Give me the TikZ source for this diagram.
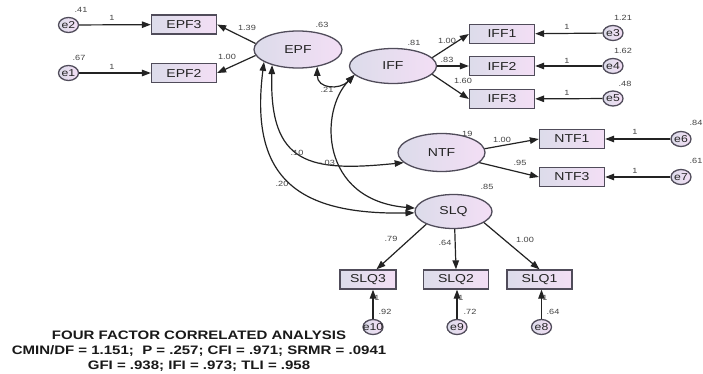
\documentclass[tikz,border=0pt]{standalone}
\usepackage{fontspec}
\setmainfont[FakeStretch=1.22]{Liberation Sans}
\usetikzlibrary{arrows.meta,shapes.geometric}
\definecolor{lc}{RGB}{35,35,35}
\definecolor{bd}{RGB}{80,76,90}
\definecolor{fl}{RGB}{220,220,234}
\definecolor{fr}{RGB}{243,222,245}
\begin{document}
\begin{tikzpicture}[x=1pt,y=-1pt,
 obs/.style={draw=bd, line width=1.3pt, left color=fl, right color=fr, minimum width=65pt, minimum height=19pt, inner sep=0pt, font=\fontsize{11.5}{12}\selectfont, text=lc},
 lat/.style={ellipse, draw=bd, line width=1.3pt, left color=fl, right color=fr, inner sep=0pt, font=\fontsize{11.5}{12}\selectfont, text=lc},
 err/.style={ellipse, draw=bd, line width=1.3pt, left color=fl, right color=fr, minimum width=20pt, minimum height=15pt, inner sep=0pt, font=\fontsize{10}{10}\selectfont, text=lc},
 lbl/.style={font=\fontsize{7.5}{8}\selectfont, text=lc!85, inner sep=0pt},
 con/.style={draw=lc, line width=1.2pt, -{Triangle[length=9pt,width=6.5pt]}},
 cov/.style={draw=lc, line width=1.2pt, {Triangle[length=9pt,width=6.5pt]}-{Triangle[length=9pt,width=6.5pt]}},
]
\useasboundingbox[fill=white] (0,0) rectangle (703,374);

% error terms
\node[err] (e2) at (68.5,25) {\makebox[0pt]{e2}};
\node[err] (e1) at (68.5,73) {\makebox[0pt]{e1}};
\node[err] (e3) at (613,33) {\makebox[0pt]{e3}};
\node[err] (e4) at (613,66) {\makebox[0pt]{e4}};
\node[err] (e5) at (613,98.5) {\makebox[0pt]{e5}};
\node[err] (e6) at (681,139) {\makebox[0pt]{e6}};
\node[err] (e7) at (681,177) {\makebox[0pt]{e7}};
\node[err] (e10) at (373,327) {\makebox[0pt]{e10}};
\node[err] (e9) at (457,327) {\makebox[0pt]{e9}};
\node[err] (e8) at (541.5,327) {\makebox[0pt]{e8}};

% observed
\node[obs] (EPF3) at (184,24.5) {EPF3};
\node[obs] (EPF2) at (184,73) {EPF2};
\node[obs] (IFF1) at (502,34) {IFF1};
\node[obs] (IFF2) at (502,66) {IFF2};
\node[obs] (IFF3) at (502,99) {IFF3};
\node[obs] (NTF1) at (572,139) {NTF1};
\node[obs] (NTF3) at (572,177) {NTF3};
\node[obs, minimum width=56pt] (SLQ3) at (368,279.5) {SLQ3};
\node[obs] (SLQ2) at (456,279.5) {SLQ2};
\node[obs] (SLQ1) at (539.5,279.5) {SLQ1};

% latent
\node[lat, minimum width=88pt, minimum height=37pt] (EPF) at (298,49.5) {EPF};
\node[lat, minimum width=87pt, minimum height=35pt] (IFF) at (393,66) {IFF};
\node[lat, minimum width=87pt, minimum height=38pt] (NTF) at (441.5,152.5) {NTF};
\node[lat, minimum width=77pt, minimum height=34pt] (SLQ) at (453.5,211.5) {SLQ};

% paths
\draw[con] (e2) -- (EPF3);
\draw[con] (e1) -- (EPF2);
\draw[con] (EPF.172) -- (EPF3.east);
\draw[con] (EPF.188) -- (EPF2.east);
\draw[con] (IFF.12) -- (IFF1.west);
\draw[con] (IFF.east) -- (IFF2.west);
\draw[con] (IFF.-12) -- (IFF3.west);
\draw[con] (e3) -- (IFF1);
\draw[con] (e4) -- (IFF2);
\draw[con] (e5) -- (IFF3);
\draw[con] (NTF.5) -- (NTF1.west);
\draw[con] (NTF.-15) -- (NTF3.west);
\draw[con] (e6) -- (NTF1);
\draw[con] (e7) -- (NTF3);
\draw[con] (SLQ.-155) -- (SLQ3.50);
\draw[con] (SLQ.-86) -- (SLQ2.north);
\draw[con] (SLQ.-20) -- (SLQ1.north);
\draw[con] (e10.north) -- (e10.north |- SLQ3.south);
\draw[con] (e9.north) -- (e9.north |- SLQ2.south);
\draw[con] (e8.north) -- (e8.north |- SLQ1.south);

% covariances
\draw[cov] (EPF.-42) .. controls +(0,22) and +(-15,15.5) .. (IFF.-167);
\draw[cov] (EPF.-149) .. controls +(-3,100) and +(-94,9.5) .. (NTF.-165);
\draw[cov] (EPF.-160) .. controls +(-15,118) and +(-115,2) .. (SLQ.-178);
\draw[cov] (IFF.-167) .. controls +(-35,35.5) and +(-96,-8) .. (SLQ.175);

% labels
\node[lbl] at (81,10) {.41};
\node[lbl] at (112,18) {1};
\node[lbl] at (79,58) {.67};
\node[lbl] at (112,67) {1};
\node[lbl] at (247,28) {1.39};
\node[lbl] at (227,57) {1.00};
\node[lbl] at (322,25) {.63};
\node[lbl] at (414,43) {.81};
\node[lbl] at (447,41) {1.00};
\node[lbl] at (447,60) {.83};
\node[lbl] at (463,81) {1.60};
\node[lbl] at (623,18) {1.21};
\node[lbl] at (623,51) {1.62};
\node[lbl] at (625,84) {.48};
\node[lbl] at (567,27) {1};
\node[lbl] at (567,61) {1};
\node[lbl] at (567,93) {1};
\node[lbl] at (327,90) {.21};
\node[lbl] at (297,153) {.10};
\node[lbl] at (327,163) {-.03};
\node[lbl] at (282,184) {.20};
\node[lbl] at (466,134) {.19};
\node[lbl] at (502,140) {1.00};
\node[lbl] at (520,163) {.95};
\node[lbl] at (696,123) {.84};
\node[lbl] at (696,161) {.61};
\node[lbl] at (635,132) {1};
\node[lbl] at (635,171) {1};
\node[lbl] at (487,187) {.85};
\node[lbl] at (391,239) {.79};
\node[lbl] at (445,243) {.64};
\node[lbl] at (525,240) {1.00};
\node[lbl] at (377,298) {1};
\node[lbl] at (461,298) {1};
\node[lbl] at (545,298) {1};
\node[lbl] at (385,312) {.92};
\node[lbl] at (470,312) {.72};
\node[lbl] at (553,312) {.64};

\node[align=center, inner sep=0pt, text=black!90, font=\bfseries\fontsize{12.3}{15}\selectfont] (title) at (199,351)
 {FOUR FACTOR CORRELATED ANALYSIS\\CMIN/DF = 1.151;\ \ P = .257; CFI = .971; SRMR = .0941\\GFI = .938; IFI = .973; TLI = .958};
\end{tikzpicture}
\end{document}
